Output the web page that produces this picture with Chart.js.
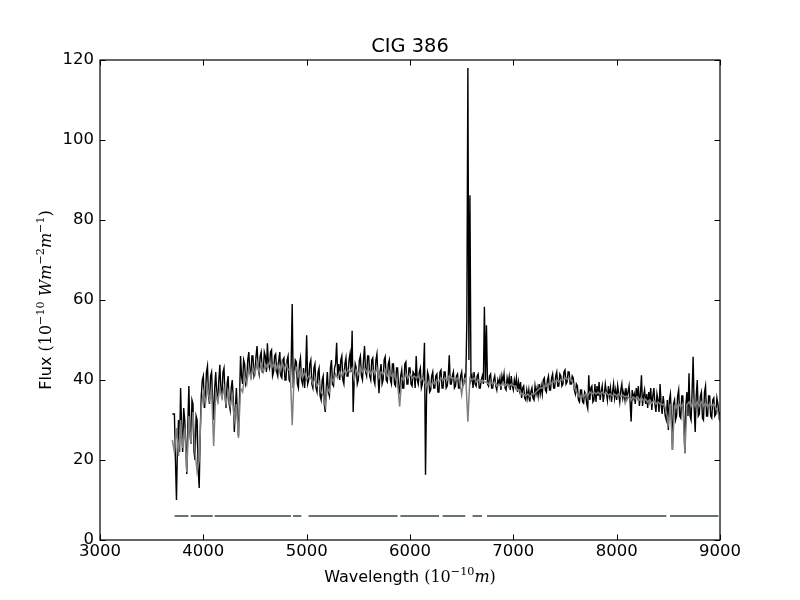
<!DOCTYPE html>
<html>
<head>
<meta charset="utf-8">
<script src="https://cdn.jsdelivr.net/npm/chart.js@4"></script>
<style>
  body { margin: 0; background: #fff; }
  #c { display: block; }
</style>
</head>
<body>
<canvas id="c" width="800" height="600"></canvas>
<script>
// observed spectrum sampled every 10 A from 3700 to 9000
const obsStart = 3700;
const obsStep = 10;
const obsFlux = [
  31.5, 31.5, 31.5, 20, 10, 24, 30, 22, 38, 28,              // 3700
  22, 33, 30, 24, 16.5, 29, 38.5, 27, 24, 35,                // 3800
  34, 22, 20, 31, 30, 18, 13, 27, 36, 40,                    // 3900
  41, 33, 35, 42, 43.5, 36, 34, 41, 42, 35,                  // 4000
  30, 38, 42, 36, 35, 40, 43.8, 37, 36, 42,                  // 4100
  43, 36, 33, 39, 41, 34, 32.5, 38, 40, 35,                  // 4200
  27, 33, 38, 31, 26, 35, 46, 41, 39, 45,                    // 4300
  44, 39, 40, 45, 47, 42, 41, 46, 46, 41,                    // 4400
  42, 46, 48.5, 43, 41.5, 46, 47, 42, 42, 47,                // 4500
  46, 42, 49.2, 44, 43, 47, 47.5, 41, 42, 46,                // 4600
  46.5, 42, 41, 45, 47, 41, 40.5, 45, 45.5, 40,              // 4700
  40, 45, 46, 40, 39.5, 44, 59, 38, 41, 45,                  // 4800
  44.5, 39, 38, 44, 45.5, 40, 39, 43, 38, 42,                // 4900
  51.2, 39, 40, 44, 45, 39, 38, 43, 44, 38,                  // 5000
  37, 42, 43, 36, 35, 40, 41, 34, 32, 38,                    // 5100
  42, 37, 36, 43, 45, 39, 38.5, 43, 44, 49.3,                // 5200
  41, 44, 40, 45, 46, 40, 39, 44, 45.5, 41,                  // 5300
  41, 45, 46.6, 42, 52.3, 32, 40, 44, 43, 39,                // 5400
  40, 45, 46, 41, 40, 45, 48.5, 42, 41, 46,                  // 5500
  46, 41, 40, 45, 45.5, 40, 39, 45, 46.5, 41,                // 5600
  36.7, 42, 44, 39, 40, 45, 45.8, 40, 39.5, 44,              // 5700
  45, 40, 39, 44, 44, 39, 38.5, 43, 43, 38,                  // 5800
  37, 41, 42.5, 38, 38, 44, 44.5, 39, 39, 43,                // 5900
  43, 39, 38.5, 42, 41.5, 38, 46, 40, 39, 42,                // 6000
  43, 38, 39, 42, 49.3, 16.3, 36, 42, 41, 37,                // 6100
  37.5, 41, 42, 38, 38, 41, 41.5, 37, 37, 42,                // 6200
  42.5, 38, 38, 42, 42, 38, 38.5, 41, 46.2, 39,              // 6300
  39, 41, 42, 38, 38.5, 41, 41.5, 38, 38, 41,                // 6400
  42, 38.5, 39, 41, 40, 54.6, 118, 45, 86.2, 40,             // 6500
  41, 38, 42, 39, 38.5, 41, 41.5, 38, 38, 40,                // 6600
  41, 39, 58.3, 40, 53.7, 39, 38.5, 41, 41.5, 38,            // 6700
  38, 40, 41, 38.5, 37.5, 40, 39, 40.5, 37.5, 41,            // 6800
  39.5, 41.5, 38, 37.5, 40.5, 39, 40.8, 37.5, 41, 38.5,      // 6900
  37.5, 40, 38.5, 40.5, 37, 39.5, 37.5, 39.5, 35.5, 38,      // 7000
  38.5, 35.5, 35, 37.5, 35.5, 37.5, 34.6, 37, 38, 35.5,      // 7100
  35, 38.5, 36.5, 38, 36, 39, 36.5, 38.5, 36.5, 40,          // 7200
  40.5, 37.5, 37, 40, 41, 37.5, 37.5, 40.5, 41.5, 38,        // 7300
  38, 41, 42, 38.5, 38.5, 41.5, 41, 38.5, 39, 42,            // 7400
  42.5, 39, 39.5, 42, 42, 39, 39, 41, 40.5, 37.5,            // 7500
  36.5, 39, 38.5, 35, 34.5, 37.5, 37.5, 34.5, 34.2, 37,      // 7600
  36.5, 34, 32.9, 41.2, 35, 38, 38.5, 34.5, 35, 39,          // 7700
  34.5, 38.5, 36, 39.5, 35, 37, 38.5, 34.5, 36.5, 39,        // 7800
  37, 35, 38.5, 36, 38, 34.5, 37, 39, 35.5, 37.5,            // 7900
  35, 38.5, 36.5, 34.5, 37.5, 39, 35.5, 37, 35, 38,          // 8000
  35.5, 37, 38.5, 34.5, 29.6, 37.5, 35.5, 36.5, 34, 38,      // 8100
  36, 38.5, 33.5, 36.5, 41.2, 33.5, 36, 37.5, 34, 36.5,      // 8200
  33, 37, 35, 38, 32.5, 36, 38, 34, 32, 36.5,                // 8300
  35, 32, 39, 34, 31.5, 36, 33.5, 31, 30, 35,                // 8400
  27.5, 35, 36.5, 31, 22.5, 34, 35, 30, 31, 36,              // 8500
  37.5, 31, 30.5, 36, 36, 30, 21.7, 34, 37, 31,              // 8600
  41.7, 31, 30, 37, 45.8, 33, 27, 36, 40, 31,                // 8700
  31.5, 36, 37, 30.5, 30, 37, 38.5, 31, 31, 36,              // 8800
  36, 31, 30.5, 35, 35.5, 31, 31.5, 35.5, 34, 31,            // 8900
  32                                                         // 9000
];

// synthetic fit sampled every 20 A
const fitStart = 3700;
const fitStep = 20;
const fitFlux = [
  25, 22, 28, 21, 30,            // 3700
  23, 28, 17, 31, 24,            // 3800
  32, 22, 17, 20, 33,            // 3900
  37, 34, 38.5, 35, 37.5,        // 4000
  23.5, 37, 34.5, 38, 35.5,      // 4100
  38, 34, 37, 33.5, 36,          // 4200
  30, 34, 25.5, 38, 37,          // 4300
  41, 39, 43, 40.5, 43,          // 4400
  41.5, 44.5, 42, 44, 42,        // 4500
  44, 43, 44.5, 43, 44,          // 4600
  42.5, 44, 42, 44.5, 42.5,      // 4700
  44, 42.5, 43, 28.7, 42,        // 4800
  43, 41, 42.5, 40.5, 42,        // 4900
  40, 41, 40.5, 39, 40.5,        // 5000
  38.5, 39.5, 37, 36, 33.5,      // 5100
  38, 37, 40.5, 39.5, 41.5,      // 5200
  40.5, 42, 41, 42.5, 41.5,      // 5300
  42.5, 42, 43, 40, 42.5,        // 5400
  41.5, 43, 42, 43, 42,          // 5500
  42.5, 41.5, 42.5, 41.5, 43,    // 5600
  40.5, 42, 41.5, 42.5, 41,      // 5700
  42, 41, 41.5, 40.5, 39,        // 5800
  33.3, 40.5, 40, 41.5, 40.5,    // 5900
  41.5, 40.5, 41, 40.5, 41,      // 6000
  40, 40.5, 39.5, 38.5, 39.5,    // 6100
  38.5, 39.5, 39, 40, 39.5,      // 6200
  40.5, 40, 40.5, 40, 41,        // 6300
  40.5, 40.5, 40, 40.5, 40,      // 6400
  36.3, 40, 40.5, 29.6, 40.5,    // 6500
  40, 40.5, 39.5, 40, 39.5,      // 6600
  40, 39.5, 39.5, 39, 39.5,      // 6700
  39, 39.5, 38.5, 39, 38.5,      // 6800
  39.5, 38.5, 39, 38.5, 39,      // 6900
  38.5, 38.5, 37.5, 37.5, 36.5,  // 7000
  36.5, 36, 36.5, 35.8, 36.5,    // 7100
  36.5, 37, 37.5, 38, 38,        // 7200
  38.5, 38.5, 39, 39, 39.5,      // 7300
  39.5, 40, 39.5, 40, 40,        // 7400
  40.5, 40.2, 40.4, 40, 39,      // 7500
  37.5, 36.5, 35.8, 36, 35.8,    // 7600
  36.5, 36, 37, 36.5, 37,        // 7700
  36.5, 37, 36.5, 37, 36.5,      // 7800
  36.8, 36.2, 36.5, 36, 36.5,    // 7900
  36, 36.5, 35.8, 36.2, 35.8,    // 8000
  36, 35.5, 35, 35.8, 35.3,      // 8100
  35.8, 35, 35.5, 34.8, 35.2,    // 8200
  34.5, 35, 34.2, 34.8, 34,      // 8300
  34.5, 34, 33.8, 34, 32,        // 8400
  29.2, 34, 22.5, 33.5, 33,      // 8500
  34, 33.3, 34, 21.7, 33.8,      // 8600
  34.5, 33.5, 35, 33.5, 34.5,    // 8700
  33.5, 34.5, 33.5, 34.2, 33.3,  // 8800
  34, 33.5, 34, 33, 32,          // 8900
  29.6                           // 9000
];

// masked-out windows shown as a line at flux 6
const maskLevel = 6;
const maskStart = [3722, 3877, 4109, 4868, 5019, 5907, 6316, 6606, 6746, 8516];
const maskEnd   = [3855, 4092, 4849, 4948, 5879, 6281, 6535, 6697, 8481, 8985];

const xTicks = [3000, 4000, 5000, 6000, 7000, 8000, 9000];
const yTicks = [0, 20, 40, 60, 80, 100, 120];

const obsData = obsFlux.map((v, i) => ({ x: obsStart + i * obsStep, y: v }));
const fitData = fitFlux.map((v, i) => ({ x: fitStart + i * fitStep, y: v }));
const maskData = [];
maskStart.forEach((s, i) => {
  maskData.push({ x: s, y: maskLevel }, { x: maskEnd[i], y: maskLevel }, { x: maskEnd[i], y: null });
});

const sansFont = '"DejaVu Sans", sans-serif';
const serifFont = '"DejaVu Serif", serif';

function drawRuns(ctx, runs, cx, cy) {
  let total = 0;
  runs.forEach(r => { ctx.font = r.f; r.w = ctx.measureText(r.t).width; total += r.w; });
  let xx = cx - total / 2;
  runs.forEach(r => { ctx.font = r.f; ctx.fillText(r.t, xx, cy + (r.dy || 0)); xx += r.w; });
}

const tickLen = 5.5;
const frameTicks = {
  id: 'frameTicks',
  afterDatasetsDraw(chart) {
    const { ctx, chartArea: a, scales: { x, y } } = chart;
    ctx.save();
    ctx.strokeStyle = '#000';
    ctx.lineWidth = 1;
    ctx.beginPath();
    x.ticks.forEach(t => {
      const px = Math.round(x.getPixelForValue(t.value)) + 0.5;
      ctx.moveTo(px, a.bottom); ctx.lineTo(px, a.bottom - tickLen);
      ctx.moveTo(px, a.top); ctx.lineTo(px, a.top + tickLen);
    });
    y.ticks.forEach(t => {
      const py = Math.round(y.getPixelForValue(t.value)) + 0.5;
      ctx.moveTo(a.left, py); ctx.lineTo(a.left + tickLen, py);
      ctx.moveTo(a.right, py); ctx.lineTo(a.right - tickLen, py);
    });
    ctx.stroke();
    ctx.lineWidth = 1.2;
    ctx.strokeRect(a.left, a.top, a.width, a.height);
    ctx.restore();
  },
  afterDraw(chart) {
    const { ctx, chartArea: a } = chart;
    const cx = (a.left + a.right) / 2;
    ctx.save();
    ctx.fillStyle = '#000';
    ctx.textBaseline = 'alphabetic';
    // title
    drawRuns(ctx, [{ t: 'CIG 386', f: '19.4px ' + sansFont }], cx, 52);
    // axis labels with math parts
    const n = '16px ', s = '11.2px ';
    drawRuns(ctx, [
      { t: 'Wavelength ', f: n + sansFont },
      { t: '(10', f: n + serifFont },
      { t: '\u221210', f: s + serifFont, dy: -7 },
      { t: 'm', f: 'italic ' + n + serifFont },
      { t: ')', f: n + serifFont }
    ], cx, 582);
    ctx.translate(51, (a.top + a.bottom) / 2);
    ctx.rotate(-Math.PI / 2);
    drawRuns(ctx, [
      { t: 'Flux ', f: n + sansFont },
      { t: '(10', f: n + serifFont },
      { t: '\u221210', f: s + serifFont, dy: -7 },
      { t: ' Wm', f: 'italic ' + n + serifFont },
      { t: '\u22122', f: s + serifFont, dy: -7 },
      { t: 'm', f: 'italic ' + n + serifFont },
      { t: '\u22121', f: s + serifFont, dy: -7 },
      { t: ')', f: n + serifFont }
    ], 0, 0);
    ctx.restore();
  }
};

new Chart(document.getElementById('c'), {
  type: 'line',
  data: {
    datasets: [
      { label: 'mask', data: maskData, borderColor: '#647478', borderWidth: 2, spanGaps: false, order: 0 },
      { label: 'fit', data: fitData, borderColor: '#808080', borderWidth: 1.5, order: 1 },
      { label: 'observed', data: obsData, borderColor: '#000000', borderWidth: 1.4, order: 2 }
    ]
  },
  options: {
    responsive: false,
    animation: false,
    devicePixelRatio: 1,
    layout: { padding: { left: 0, right: 80, top: 60, bottom: 0 } },
    elements: { point: { radius: 0 }, line: { tension: 0 } },
    plugins: { legend: { display: false }, tooltip: { enabled: false }, title: { display: false } },
    scales: {
      x: {
        type: 'linear',
        min: xTicks[0],
        max: xTicks[xTicks.length - 1],
        afterBuildTicks: sc => { sc.ticks = xTicks.map(v => ({ value: v })); },
        afterFit: sc => { sc.height = 60; },
        grid: { display: false, drawTicks: false },
        border: { display: false },
        ticks: { color: '#000', padding: 2, maxRotation: 0, callback: v => String(v), font: { family: 'DejaVu Sans', size: 16.5 } }
      },
      y: {
        type: 'linear',
        min: yTicks[0],
        max: yTicks[yTicks.length - 1],
        afterBuildTicks: sc => { sc.ticks = yTicks.map(v => ({ value: v })); },
        afterFit: sc => { sc.width = 100; },
        grid: { display: false, drawTicks: false },
        border: { display: false },
        ticks: { color: '#000', padding: 6, callback: v => String(v), font: { family: 'DejaVu Sans', size: 16.5 } }
      }
    }
  },
  plugins: [frameTicks]
});
</script>
</body>
</html>
